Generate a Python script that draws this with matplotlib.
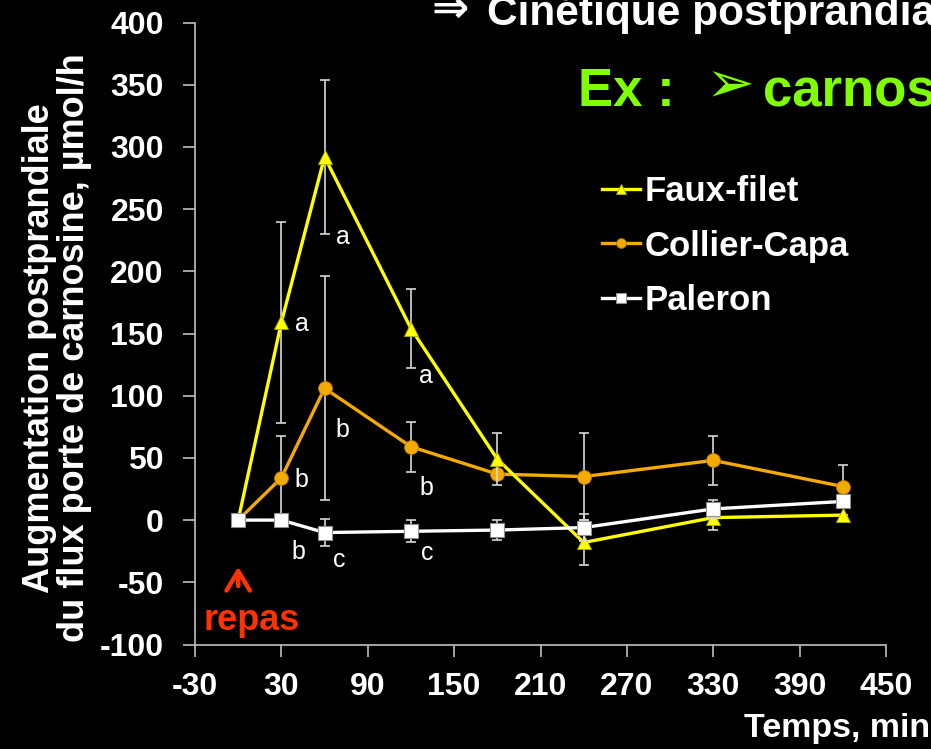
import matplotlib
matplotlib.use("Agg")
import matplotlib.pyplot as plt

plt.rcParams['font.family'] = ['Liberation Sans', 'DejaVu Sans']
plt.rcParams['font.weight'] = 'bold'
plt.rcParams['axes.unicode_minus'] = False

# Postprandial carnosine portal flux (µmol/h) by time after the meal
temps = [0, 30, 60, 120, 180, 240, 330, 420]
faux_filet = [0, 159, 292, 154, 49, -18, 2, 4]
faux_filet_err = [0, 81, 62, 32, 21, 18, 10, 0]
collier_capa = [0, 34, 106, 59, 37, 35, 48, 27]
collier_capa_err = [0, 34, 90, 20, 3, 35, 20, 17]
paleron = [0, 0, -10, -9, -8, -6, 9, 15]
paleron_err = [0, 3, 11, 9, 8, 11, 7, 3]

series_names = ['Faux-filet', 'Collier-Capa', 'Paleron']
x_ticks = list(range(-30, 451, 60))
y_ticks = list(range(-100, 401, 50))

# significance letters: (series index, time index, letter)
letters = [
    (0, 1, 'a'), (0, 2, 'a'), (0, 3, 'a'),
    (1, 1, 'b'), (1, 2, 'b'), (1, 3, 'b'),
    (2, 1, 'b'), (2, 2, 'c'), (2, 3, 'c'),
]
letter_offsets = {
    (0, 1): (21, -2), (0, 2): (18, -80), (0, 3): (15, -47),
    (1, 1): (20, -2), (1, 2): (18, -42), (1, 3): (15, -41),
    (2, 1): (17, -32), (2, 2): (15, -27), (2, 3): (16, -22),
}

W, H = 931, 749
fig = plt.figure(figsize=(W / 100, H / 100), dpi=100, facecolor='black')
ax = fig.add_axes([195 / W, 1 - 644.5 / H, (886 - 195) / W, (644.5 - 22.5) / H])
ax.set_facecolor('black')

yellow = '#FFFF00'
orange = '#F5AA00'
white = '#FFFFFF'
err_color = '#D8D8D8'

values = [faux_filet, collier_capa, paleron]
errors = [faux_filet_err, collier_capa_err, paleron_err]
styles = [
    dict(color=yellow, marker='^', ms=10, mfc=yellow, mec='#B0B000', mew=0.6, z=3),
    dict(color=orange, marker='o', ms=10, mfc=orange, mec='#B07800', mew=0.6, z=2),
    dict(color=white, marker='s', ms=10, mfc=white, mec='#909090', mew=0.8, z=4),
]

handles = []
for name, vals, errs, st in zip(series_names, values, errors, styles):
    ax.errorbar(temps, vals, yerr=errs, fmt='none', ecolor=err_color,
                elinewidth=1.2, capsize=3.4, capthick=1.2, zorder=st['z'])
    line, = ax.plot(temps, vals, color=st['color'], lw=2.4, marker=st['marker'],
                    ms=st['ms'], mfc=st['mfc'], mec=st['mec'], mew=st['mew'],
                    zorder=st['z'] + 0.5, label=name)
    handles.append(line)

for si, ti, txt in letters:
    ax.annotate(txt, xy=(temps[ti], values[si][ti]), xytext=letter_offsets[(si, ti)],
                textcoords='offset pixels', ha='center', va='center',
                fontsize=18, fontweight='normal', color='white', zorder=6)

ax.set_xlim(-30, 450)
ax.set_ylim(-100, 400)
ax.set_xticks(x_ticks)
ax.set_yticks(y_ticks)

for side in ('top', 'right'):
    ax.spines[side].set_visible(False)
for side in ('left', 'bottom'):
    ax.spines[side].set_color('#C0C0C0')
    ax.spines[side].set_linewidth(1.2)

ax.tick_params(axis='both', colors='#C0C0C0', length=8.5, width=1.2, direction='out')
ax.tick_params(axis='x', labelsize=23, labelcolor='white', pad=11)
ax.tick_params(axis='y', labelsize=23, labelcolor='white', pad=14)
for lab in ax.get_xticklabels() + ax.get_yticklabels():
    lab.set_fontweight('bold')

# legend
leg = ax.legend(handles=handles, loc='upper left',
                bbox_to_anchor=(602 / W, 1 - 175 / H), bbox_transform=fig.transFigure,
                frameon=False, fontsize=25, handlelength=1.1, handletextpad=0.12,
                labelspacing=0.62, borderpad=0, borderaxespad=0, markerscale=0.7)
for t in leg.get_texts():
    t.set_color('white')
    t.set_fontweight('bold')

# meal marker
red = '#FF3300'
ax.annotate('', xy=(0, -37.5), xytext=(0, -53),
            arrowprops=dict(arrowstyle='->,head_length=0.7,head_width=0.42',
                            color=red, lw=3.2, shrinkA=0, shrinkB=0,
                            mutation_scale=20, capstyle='round', joinstyle='round'))
ax.text(9, -81, 'repas', color=red, fontsize=26, fontweight='bold',
        ha='center', va='center')

# axis titles
fig.text(57 / W, 1 - 348 / H, 'Augmentation postprandiale\ndu flux porte de carnosine, µmol/h',
         rotation=90, ha='center', va='center', color='white', fontsize=26,
         fontweight='bold', linespacing=1.0, multialignment='center')
fig.text(930 / W, 1 - 737 / H, 'Temps, min', ha='right', va='baseline',
         color='white', fontsize=24.5, fontweight='bold')

# slide headings
fig.text(431 / W, 1 - 23 / H, '⇒', ha='left', va='baseline',
         color='white', fontsize=32, fontweight='bold')
fig.text(487 / W, 1 - 25 / H, 'Cinétique postprandiale', ha='left', va='baseline',
         color='white', fontsize=30.5, fontweight='bold')
green = '#80FF00'
fig.text(578 / W, 1 - 106 / H, 'Ex :', ha='left', va='baseline',
         color=green, fontsize=38, fontweight='bold')
fig.text(705 / W, 1 - 87 / H, '➢', ha='left', va='center',
         color=green, fontsize=42, fontweight='bold')
fig.text(763 / W, 1 - 106 / H, 'carnosine', ha='left', va='baseline',
         color=green, fontsize=38, fontweight='bold')

fig.savefig('out.png', dpi=100, facecolor='black')
